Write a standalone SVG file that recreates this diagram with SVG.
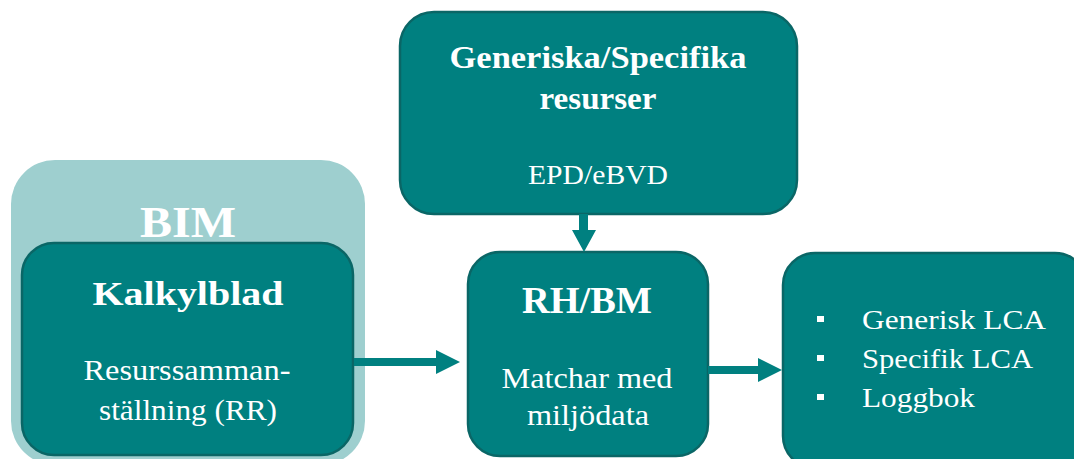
<svg xmlns="http://www.w3.org/2000/svg" width="1074" height="459" viewBox="0 0 1074 459">
  <defs>
    <style>
      .box { fill: #008080; stroke: #0a6666; stroke-width: 2.5; }
      .bim { fill: #9ecfcf; }
      .t { fill: #ffffff; font-family: "Liberation Serif", "DejaVu Serif", serif; text-anchor: middle; }
      .l { fill: #ffffff; font-family: "Liberation Serif", "DejaVu Serif", serif; text-anchor: start; }
      .b { font-weight: bold; }
      .arrow { fill: #008080; }
      .bullet { fill: #ffffff; }
    </style>
  </defs>

  <rect width="1074" height="459" fill="#ffffff"/>

  <!-- BIM container -->
  <g id="bim">
    <rect class="bim" x="11" y="160" width="354" height="305" rx="44"/>
    <text class="t b" x="188" y="237" font-size="44" textLength="96" lengthAdjust="spacingAndGlyphs">BIM</text>
  </g>

  <!-- Spreadsheet -->
  <g id="kalkylblad">
    <rect class="box" x="22" y="243" width="331" height="212" rx="32"/>
    <text class="t b" x="188" y="305" font-size="34" textLength="191" lengthAdjust="spacingAndGlyphs">Kalkylblad</text>
    <text class="t" x="187" y="380" font-size="29" textLength="207" lengthAdjust="spacingAndGlyphs">Resurssamman-</text>
    <text class="t" x="188" y="420" font-size="29" textLength="178" lengthAdjust="spacingAndGlyphs">ställning (RR)</text>
  </g>

  <!-- Resources -->
  <g id="resurser">
    <rect class="box" x="400" y="12" width="397" height="202" rx="34"/>
    <text class="t b" x="598" y="68" font-size="31" textLength="297" lengthAdjust="spacingAndGlyphs">Generiska/Specifika</text>
    <text class="t b" x="598" y="109" font-size="31" textLength="117" lengthAdjust="spacingAndGlyphs">resurser</text>
    <text class="t" x="598" y="184" font-size="27" textLength="140" lengthAdjust="spacingAndGlyphs">EPD/eBVD</text>
  </g>

  <!-- RH/BM -->
  <g id="rhbm">
    <rect class="box" x="468" y="252" width="240" height="204" rx="32"/>
    <text class="t b" x="587" y="313" font-size="37" textLength="130" lengthAdjust="spacingAndGlyphs">RH/BM</text>
    <text class="t" x="587" y="388" font-size="29" textLength="171" lengthAdjust="spacingAndGlyphs">Matchar med</text>
    <text class="t" x="588" y="425" font-size="29" textLength="122" lengthAdjust="spacingAndGlyphs">miljödata</text>
  </g>

  <!-- Outputs -->
  <g id="resultat">
    <rect class="box" x="783" y="253" width="304" height="215" rx="32"/>
    <rect class="bullet" x="817" y="316" width="7" height="6"/>
    <rect class="bullet" x="817" y="355" width="7" height="6"/>
    <rect class="bullet" x="817" y="394" width="7" height="6"/>
    <text class="l" x="862" y="329" font-size="28" textLength="184" lengthAdjust="spacingAndGlyphs">Generisk LCA</text>
    <text class="l" x="862" y="368" font-size="28" textLength="171" lengthAdjust="spacingAndGlyphs">Specifik LCA</text>
    <text class="l" x="862" y="407" font-size="28" textLength="113" lengthAdjust="spacingAndGlyphs">Loggbok</text>
  </g>

  <!-- Connectors -->
  <g id="connectors">
    <path class="arrow" d="M354 358 H436 V350 L460 362 L436 374 V366 H354 Z"/>
    <path class="arrow" d="M579 214 V230 H572 L584 252 L596 230 H588 V214 Z"/>
    <path class="arrow" d="M708 366 H758 V358 L782 370 L758 382 V374 H708 Z"/>
  </g>
</svg>
